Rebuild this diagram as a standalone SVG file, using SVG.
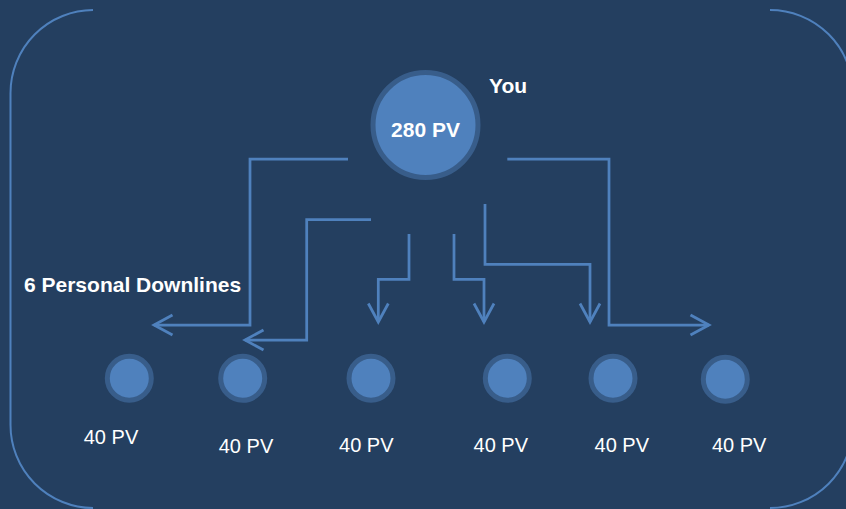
<svg xmlns="http://www.w3.org/2000/svg" width="846" height="509" viewBox="0 0 846 509">
<defs>
<style>
.bg{fill:#243F60}
.frame{fill:none;stroke:#4F81BD;stroke-width:2}
.node{fill:#4F81BD;stroke:#385D8A;stroke-width:5}
.conn{fill:none;stroke:#4F81BD;stroke-width:2.75;marker-end:url(#chev)}
.lbl{font-family:"Liberation Sans",Arial,sans-serif;font-size:20px;fill:#FFFFFF}
.bold{font-family:"Liberation Sans",Arial,sans-serif;font-size:21px;font-weight:bold;fill:#FFFFFF}
</style>
<marker id="chev" markerUnits="userSpaceOnUse" markerWidth="24" markerHeight="24" viewBox="-21 -12 24 24" refX="0" refY="0" orient="auto" overflow="visible">
<path d="M-18.5,-10 L0,0 L-18.5,10" fill="none" stroke="#4F81BD" stroke-width="2.75"/>
</marker>
</defs>
<rect class="bg" x="0" y="0" width="846" height="509"/>
<g id="frame">
<path class="frame" d="M93,10 A83,83 0 0 0 10.5,93 V425 A83,83 0 0 0 93,508"/>
<path class="frame" d="M770,10 A83,83 0 0 1 853,93 V425 A83,83 0 0 1 770,508"/>
</g>

<g id="connectors">
<path class="conn" d="M348,159 H250 V325 H154"/>
<path class="conn" d="M371,219.5 H306.7 V340 H245"/>
<path class="conn" d="M409,234 V279.3 H378.3 V322"/>
<path class="conn" d="M454,234 V279.3 H484 V322"/>
<path class="conn" d="M485,204 V264.3 H590 V322"/>
<path class="conn" d="M507.3,159 H609 V325 H709"/>
</g>

<g id="you">
<circle class="node" cx="425.5" cy="125" r="52.5"/>
<text class="bold" x="425.5" y="137" text-anchor="middle">280 PV</text>
<text class="bold" x="489" y="92.5">You</text>
</g>

<g id="label-downlines">
<text class="bold" x="24" y="291.5">6 Personal Downlines</text>
</g>

<g id="d1">
<circle class="node" cx="129.3" cy="378.3" r="22"/>
<text class="lbl" x="111" y="444.3" text-anchor="middle">40 PV</text>
</g>
<g id="d2">
<circle class="node" cx="242.7" cy="378.3" r="22"/>
<text class="lbl" x="246" y="453.3" text-anchor="middle">40 PV</text>
</g>
<g id="d3">
<circle class="node" cx="371" cy="378.3" r="22"/>
<text class="lbl" x="366.3" y="451.7" text-anchor="middle">40 PV</text>
</g>
<g id="d4">
<circle class="node" cx="507.3" cy="378.3" r="22"/>
<text class="lbl" x="500.8" y="451.7" text-anchor="middle">40 PV</text>
</g>
<g id="d5">
<circle class="node" cx="613" cy="378.3" r="22"/>
<text class="lbl" x="621.8" y="451.7" text-anchor="middle">40 PV</text>
</g>
<g id="d6">
<circle class="node" cx="725.3" cy="379.3" r="22"/>
<text class="lbl" x="739.2" y="451.7" text-anchor="middle">40 PV</text>
</g>
</svg>
